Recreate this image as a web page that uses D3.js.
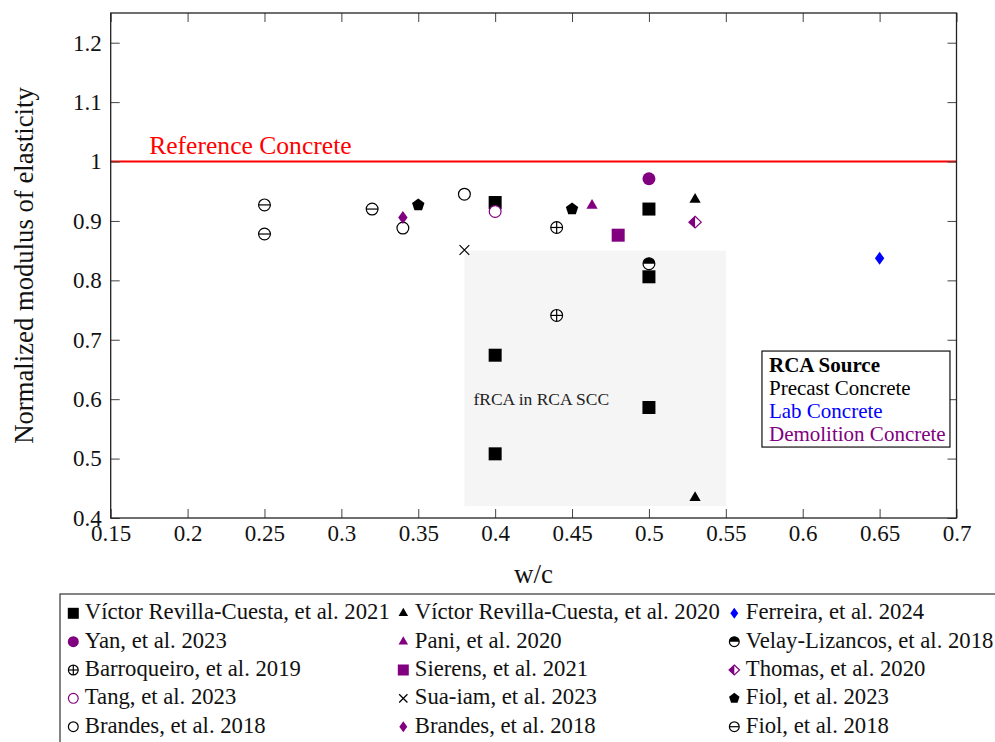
<!DOCTYPE html>
<html>
<head>
<meta charset="utf-8">
<script src="https://cdn.jsdelivr.net/npm/d3@7"></script>
<style>
  body { margin: 0; background: #fff; }
  text { font-family: "Liberation Serif", serif; }
</style>
</head>
<body>
<div id="chart"></div>
<script>
// axis ticks
const xTicks = [0.15, 0.2, 0.25, 0.3, 0.35, 0.4, 0.45, 0.5, 0.55, 0.6, 0.65, 0.7];
const yTicks = [0.4, 0.5, 0.6, 0.7, 0.8, 0.9, 1.0, 1.1, 1.2];

// [w/c, normalized modulus] per study
const revilla2021 = [[0.4, 0.931], [0.5, 0.92], [0.5, 0.806], [0.4, 0.674], [0.5, 0.586], [0.4, 0.508]];
const revilla2020 = [[0.53, 0.936], [0.53, 0.434]];
const ferreira2024 = [[0.65, 0.837]];
const yan2023 = [[0.5, 0.971]];
const pani2020 = [[0.463, 0.926]];
const velay2018 = [[0.5, 0.828]];
const barroqueiro2019 = [[0.44, 0.889], [0.44, 0.741]];
const sierens2021 = [[0.48, 0.876]];
const thomas2020 = [[0.53, 0.898]];
const tang2023 = [[0.4, 0.916]];
const suaiam2023 = [[0.38, 0.851]];
const fiol2023 = [[0.35, 0.927], [0.45, 0.92]];
const brandesCircle = [[0.34, 0.888], [0.38, 0.945]];
const brandesDiamond = [[0.34, 0.906]];
const fiol2018 = [[0.25, 0.927], [0.25, 0.878], [0.32, 0.92]];

const referenceValue = 1.0;
const shadedX = [0.38, 0.55];
const shadedY = [0.42, 0.85];

const sourceLabels = ["Precast Concrete", "Lab Concrete", "Demolition Concrete"];

const BLACK = "#000", BLUE = "#0000ff", PURPLE = "#800080";

// legend order (row by row)
const series = [
  { name: "Víctor Revilla-Cuesta, et al. 2021", data: revilla2021, mark: "square", color: BLACK },
  { name: "Víctor Revilla-Cuesta, et al. 2020", data: revilla2020, mark: "triangle", color: BLACK },
  { name: "Ferreira, et al. 2024", data: ferreira2024, mark: "diamond", color: BLUE },
  { name: "Yan, et al. 2023", data: yan2023, mark: "circle", color: PURPLE },
  { name: "Pani, et al. 2020", data: pani2020, mark: "triangle", color: PURPLE },
  { name: "Velay-Lizancos, et al. 2018", data: velay2018, mark: "halfcircle", color: BLACK },
  { name: "Barroqueiro, et al. 2019", data: barroqueiro2019, mark: "oplus", color: BLACK },
  { name: "Sierens, et al. 2021", data: sierens2021, mark: "square", color: PURPLE },
  { name: "Thomas, et al. 2020", data: thomas2020, mark: "halfdiamond", color: PURPLE },
  { name: "Tang, et al. 2023", data: tang2023, mark: "ocircle", color: PURPLE },
  { name: "Sua-iam, et al. 2023", data: suaiam2023, mark: "cross", color: BLACK },
  { name: "Fiol, et al. 2023", data: fiol2023, mark: "pentagon", color: BLACK },
  { name: "Brandes, et al. 2018", data: brandesCircle, mark: "ocircle", color: BLACK },
  { name: "Brandes, et al. 2018", data: brandesDiamond, mark: "diamond", color: PURPLE },
  { name: "Fiol, et al. 2018", data: fiol2018, mark: "ominus", color: BLACK }
];

const W = 995, H = 742;
const margin = { top: 13, left: 110.7, right: 38.5, bottom: 224 };
const width = W - margin.left - margin.right;
const height = H - margin.top - margin.bottom;

const svg = d3.select("#chart").append("svg")
  .attr("width", W).attr("height", H);

const g = svg.append("g")
  .attr("transform", `translate(${margin.left},${margin.top})`);

const x = d3.scaleLinear().domain([0.15, 0.7]).range([0, width]);
const y = d3.scaleLinear().domain([0.4, 1.25]).range([height, 0]);

const fmt = d => String(+d.toFixed(2));

// draws a marker centred on 0,0; s = half size
function addMarker(sel, kind, color, s) {
  const sw = 1.2;
  if (kind === "square") {
    sel.append("rect").attr("x", -s).attr("y", -s).attr("width", 2 * s).attr("height", 2 * s).attr("fill", color);
  } else if (kind === "circle") {
    sel.append("circle").attr("r", s).attr("fill", color);
  } else if (kind === "ocircle") {
    sel.append("circle").attr("r", s - 0.6).attr("fill", "#fff").attr("stroke", color).attr("stroke-width", sw);
  } else if (kind === "triangle") {
    const pts = [-90, 30, 150].map(a => [s * Math.cos(a * Math.PI / 180), s * Math.sin(a * Math.PI / 180)]);
    sel.append("path").attr("d", "M" + pts.join("L") + "Z").attr("fill", color);
  } else if (kind === "pentagon") {
    const pts = d3.range(5).map(k => {
      const a = (-90 + 72 * k) * Math.PI / 180;
      return [s * Math.cos(a), s * Math.sin(a)];
    });
    sel.append("path").attr("d", "M" + pts.join("L") + "Z").attr("fill", color);
  } else if (kind === "diamond") {
    const w = s * 0.72;
    sel.append("path").attr("d", `M0,${-s}L${w},0L0,${s}L${-w},0Z`).attr("fill", color);
  } else if (kind === "halfdiamond") {
    const w = s * 0.95, h = s * 0.9;
    sel.append("path").attr("d", `M0,${-h}L${w},0L0,${h}L${-w},0Z`)
      .attr("fill", "#fff").attr("stroke", color).attr("stroke-width", sw);
    sel.append("path").attr("d", `M0,${-h}L${-w},0L0,${h}Z`).attr("fill", color);
  } else if (kind === "halfcircle") {
    const r = s - 0.6;
    sel.append("circle").attr("r", r).attr("fill", "#fff").attr("stroke", color).attr("stroke-width", sw);
    sel.append("path").attr("d", `M${-r},0A${r},${r} 0 0 1 ${r},0Z`).attr("fill", color);
  } else if (kind === "oplus" || kind === "ominus") {
    const r = s - 0.6;
    sel.append("circle").attr("r", r).attr("fill", "#fff").attr("stroke", color).attr("stroke-width", sw);
    sel.append("line").attr("x1", -r).attr("x2", r).attr("stroke", color).attr("stroke-width", sw);
    if (kind === "oplus")
      sel.append("line").attr("y1", -r).attr("y2", r).attr("stroke", color).attr("stroke-width", sw);
  } else if (kind === "cross") {
    const c = s * 0.75;
    sel.append("path").attr("d", `M${-c},${-c}L${c},${c}M${-c},${c}L${c},${-c}`)
      .attr("stroke", color).attr("stroke-width", sw).attr("fill", "none");
  }
}

// shaded region
g.append("rect")
  .attr("x", x(shadedX[0])).attr("width", x(shadedX[1]) - x(shadedX[0]))
  .attr("y", y(shadedY[1])).attr("height", y(shadedY[0]) - y(shadedY[1]))
  .attr("fill", "#f5f5f5");

g.append("text")
  .attr("x", x(0.43)).attr("y", y(0.6)).attr("dy", "0.35em")
  .attr("text-anchor", "middle")
  .style("font-size", "17.5px").attr("fill", "#222")
  .text("fRCA in RCA SCC");

// reference line
g.append("line")
  .attr("x1", 0).attr("x2", width)
  .attr("y1", y(referenceValue)).attr("y2", y(referenceValue))
  .attr("stroke", "#ff0000").attr("stroke-width", 2);

g.append("text")
  .attr("x", x(0.175)).attr("y", y(referenceValue) - 8)
  .style("font-size", "25.6px").attr("fill", "#ff0000")
  .text("Reference Concrete");

// axes: ticks point inward on all four sides
const tickCol = "#444";
g.append("g").attr("transform", `translate(0,${height})`)
  .call(d3.axisBottom(x).tickValues(xTicks).tickFormat(fmt).tickSize(-9).tickPadding(7));
g.append("g")
  .call(d3.axisLeft(y).tickValues(yTicks).tickFormat(fmt).tickSize(-9).tickPadding(9));
g.append("g")
  .call(d3.axisTop(x).tickValues(xTicks).tickFormat("").tickSize(-9));
g.append("g").attr("transform", `translate(${width},0)`)
  .call(d3.axisRight(y).tickValues(yTicks).tickFormat("").tickSize(-9));

g.selectAll(".domain").remove();
g.selectAll(".tick line").attr("stroke", tickCol).attr("stroke-width", 1);
g.selectAll(".tick text")
  .style("font-family", "'Liberation Serif', serif")
  .style("font-size", "23px").attr("fill", "#111");

g.append("rect")
  .attr("width", width).attr("height", height)
  .attr("fill", "none").attr("stroke", "#222").attr("stroke-width", 1.3);

// axis titles
svg.append("text")
  .attr("x", margin.left + width / 2).attr("y", 583)
  .attr("text-anchor", "middle")
  .style("font-size", "27px").attr("fill", "#111")
  .text("w/c");

svg.append("text")
  .attr("transform", `translate(33,${margin.top + height / 2}) rotate(-90)`)
  .attr("text-anchor", "middle")
  .style("font-size", "26.7px").attr("fill", "#111")
  .text("Normalized modulus of elasticity");

// data points
series.forEach(sr => {
  sr.data.forEach(d => {
    const m = g.append("g").attr("transform", `translate(${x(d[0])},${y(d[1])})`);
    addMarker(m, sr.mark, sr.color, 6.5);
  });
});

// RCA source box
const src = g.append("g").attr("transform", `translate(${x(0.5735)},${y(0.681)})`);
src.append("rect").attr("width", 188).attr("height", 96)
  .attr("fill", "#fff").attr("stroke", "#111").attr("stroke-width", 1.2);
src.append("text").attr("x", 7).attr("y", 20.5)
  .style("font-size", "21px").style("font-weight", "bold").text("RCA Source");
src.selectAll("text.src").data(sourceLabels).enter().append("text")
  .attr("class", "src")
  .attr("x", 7).attr("y", (d, i) => 43.5 + i * 23)
  .style("font-size", "21px")
  .attr("fill", (d, i) => [BLACK, BLUE, PURPLE][i])
  .text(d => d);

// bottom legend (3 columns, row-wise)
const leg = svg.append("g").attr("transform", "translate(60,594)");
leg.append("rect").attr("width", 1000).attr("height", 200)
  .attr("fill", "#fff").attr("stroke", "#333").attr("stroke-width", 1.2);

const colX = [13.3, 343.3, 674.3];
const rowStep = 28.35;
series.forEach((sr, i) => {
  const col = i % 3, row = Math.floor(i / 3);
  const item = leg.append("g")
    .attr("transform", `translate(${colX[col]},${19.3 + row * rowStep})`);
  addMarker(item.append("g"), sr.mark, sr.color, 5.5);
  item.append("text").attr("x", 11.5).attr("y", 6)
    .style("font-size", "22.7px").attr("fill", "#111")
    .text(sr.name);
});
</script>
</body>
</html>
